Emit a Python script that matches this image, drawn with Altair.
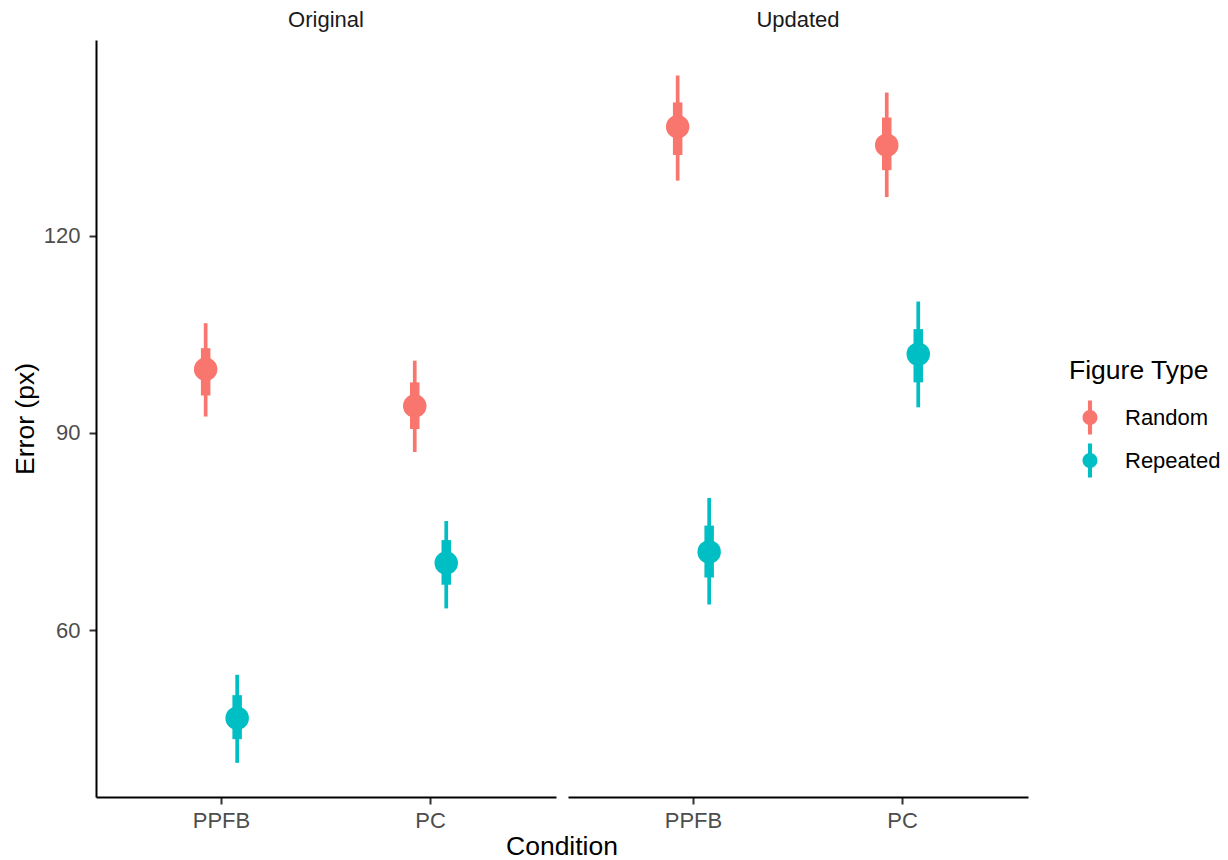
import altair as alt
import pandas as pd

# Posterior summaries of pointing error per panel / condition / figure type
panels = ["Original", "Original", "Original", "Original",
          "Updated", "Updated", "Updated", "Updated"]
conditions = ["PPFB", "PPFB", "PC", "PC", "PPFB", "PPFB", "PC", "PC"]
figure_types = ["Random", "Repeated", "Random", "Repeated",
                "Random", "Repeated", "Random", "Repeated"]
estimate = [99.7, 46.6, 94.1, 70.2, 136.6, 71.9, 133.8, 102.0]
lower_95 = [92.5, 39.8, 87.1, 63.3, 128.4, 63.9, 125.9, 93.9]
upper_95 = [106.7, 53.2, 101.0, 76.6, 144.4, 80.1, 141.8, 110.0]
lower_66 = [95.7, 43.4, 90.6, 66.9, 132.3, 68.0, 130.0, 97.7]
upper_66 = [102.9, 50.1, 97.7, 73.7, 140.3, 75.9, 138.0, 105.8]

condition_order = ["PPFB", "PC"]
type_order = ["Random", "Repeated"]
type_colors = ["#F8766D", "#00BFC4"]
y_ticks = [60, 90, 120]

df = pd.DataFrame({
    "panel": panels,
    "condition": conditions,
    "figure_type": figure_types,
    "estimate": estimate,
    "lower_95": lower_95,
    "upper_95": upper_95,
    "lower_66": lower_66,
    "upper_66": upper_66,
})

FONT = "Liberation Sans"
TITLE_SIZE = 26.5
LABEL_SIZE = 22

# pointinterval-style legend glyph: vertical bar with a dot
glyph = ("M-0.12,-1L0.12,-1L0.12,1L-0.12,1Z "
         "M-0.44,0A0.44,0.44,0,1,1,0.44,0A0.44,0.44,0,1,1,-0.44,0Z")

x_enc = alt.X(
    "condition:N",
    sort=condition_order,
    scale=alt.Scale(domain=condition_order, paddingInner=0, paddingOuter=0.1),
    axis=alt.Axis(title=None, labelAngle=0, labelPadding=6),
)
# narrow dodge inside each condition band
xoff_enc = alt.XOffset(
    "figure_type:N",
    scale=alt.Scale(domain=type_order, range=[73, 136],
                    paddingInner=0, paddingOuter=0),
)
y_scale = alt.Scale(domain=[34.6, 149.8], nice=False, zero=False)
color_scale = alt.Scale(domain=type_order, range=type_colors)

points = alt.Chart().mark_point(filled=True, size=550, opacity=1).encode(
    x=x_enc,
    xOffset=xoff_enc,
    y=alt.Y("estimate:Q", scale=y_scale,
            axis=alt.Axis(title="Error (px)", values=y_ticks,
                          labelPadding=9, titlePadding=4)),
    color=alt.Color(
        "figure_type:N",
        scale=color_scale,
        legend=alt.Legend(
            title="Figure Type",
            orient="none",
            legendX=973,
            legendY=318,
            symbolType=glyph,
            symbolSize=1156,
            symbolStrokeWidth=0,
            symbolOpacity=1,
            symbolOffset=4,
            labelOffset=18,
            rowPadding=9,
            titlePadding=16,
            padding=0,
        ),
    ),
)

thin = alt.Chart().mark_rule(strokeWidth=3.7).encode(
    x=x_enc,
    xOffset=xoff_enc,
    y=alt.Y("lower_95:Q", scale=y_scale),
    y2="upper_95:Q",
    color=alt.Color("figure_type:N", scale=color_scale),
)

thick = alt.Chart().mark_rule(strokeWidth=9.5).encode(
    x=x_enc,
    xOffset=xoff_enc,
    y=alt.Y("lower_66:Q", scale=y_scale),
    y2="upper_66:Q",
    color=alt.Color("figure_type:N", scale=color_scale),
)

chart = (
    alt.layer(points, thin, thick, data=df)
    .properties(width=460, height=757)
    .facet(
        column=alt.Column(
            "panel:N",
            sort=["Original", "Updated"],
            header=alt.Header(
                title="Condition",
                titleOrient="bottom",
                titleFont=FONT,
                titleFontSize=TITLE_SIZE,
                titleFontWeight="normal",
                titleColor="black",
                titlePadding=-7,
                labelOrient="top",
                labelFontSize=LABEL_SIZE,
                labelFont=FONT,
                labelColor="#1A1A1A",
                labelPadding=8,
            ),
        )
    )
    .properties(padding={"left": 12, "top": 9, "right": 5, "bottom": 5},
                background="white")
    .configure_facet(spacing=12)
    .configure_view(stroke=None)
    .configure_axis(
        grid=False,
        domainColor="black",
        domainWidth=2,
        tickColor="#333333",
        tickWidth=2,
        tickSize=7,
        labelFont=FONT,
        labelFontSize=LABEL_SIZE,
        labelColor="#4D4D4D",
        labelPadding=4,
        titleFont=FONT,
        titleFontSize=TITLE_SIZE,
        titleFontWeight="normal",
        titleColor="black",
        titlePadding=6,
    )
    .configure_legend(
        titleFont=FONT,
        titleFontSize=TITLE_SIZE,
        titleFontWeight="normal",
        titleColor="black",
        labelFont=FONT,
        labelFontSize=LABEL_SIZE,
        labelColor="black",
    )
)

chart.save("out.html", embed_options={"renderer": "svg", "actions": False})
